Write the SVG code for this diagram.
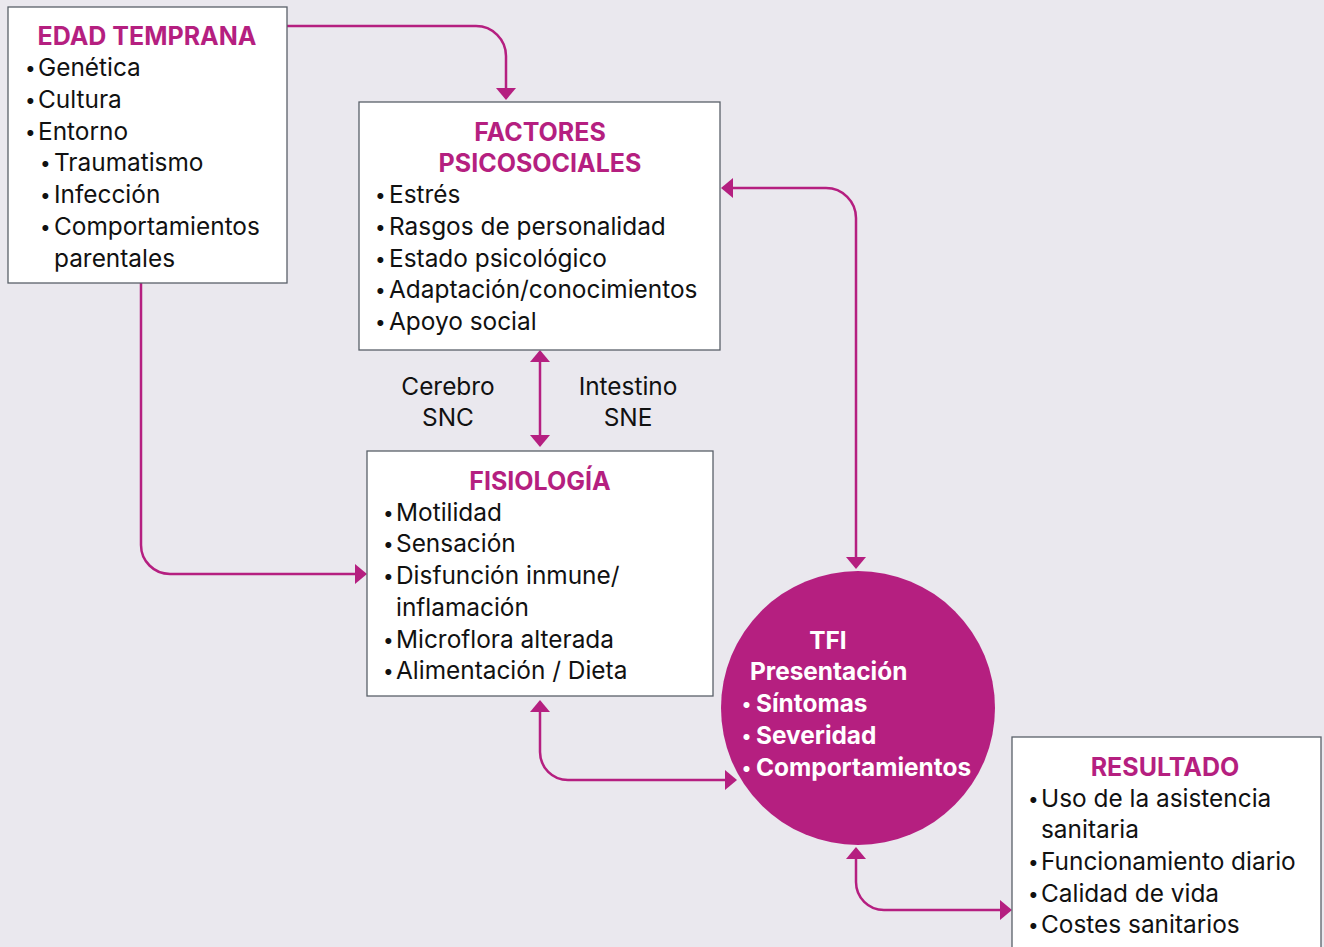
<svg xmlns="http://www.w3.org/2000/svg" width="1324" height="947" viewBox="0 0 1324 947">
<style>
.bg{fill:#EAE8EE}
.box{fill:#FFFFFF;stroke:#596069;stroke-width:1.3}
.t{font-family:Inter,"Open Sans","Liberation Sans",sans-serif;font-size:24.4px;fill:#111111}
.h{font-family:Inter,"Open Sans","Liberation Sans",sans-serif;font-size:25px;font-weight:700;fill:#B51F80;text-anchor:middle}
.w{font-family:Inter,"Open Sans","Liberation Sans",sans-serif;font-size:24.4px;font-weight:700;fill:#FFFFFF}
.b{font-size:19px}
.c{fill:none;stroke:#B51F80;stroke-width:2.5}
.m{text-anchor:middle}
</style>
<defs>
<marker id="ah" viewBox="0 0 12 20" refX="1" refY="10" markerWidth="12" markerHeight="20" markerUnits="userSpaceOnUse" orient="auto-start-reverse">
<path d="M0,0 L12,10 L0,20 Z" fill="#B51F80"/>
</marker>
</defs>
<rect class="bg" x="0" y="0" width="1324" height="947"/>

<g id="connectors">
<path class="c" d="M287,26 H476 A30,30 0 0 1 506,56 V89" marker-end="url(#ah)"/>
<path class="c" d="M732,188 H826 A30,30 0 0 1 856,218 V558" marker-start="url(#ah)" marker-end="url(#ah)"/>
<path class="c" d="M540,361 V436" marker-start="url(#ah)" marker-end="url(#ah)"/>
<path class="c" d="M141,283 V545 A29,29 0 0 0 170,574 H356" marker-end="url(#ah)"/>
<path class="c" d="M540,711 V752 A28,28 0 0 0 568,780 H726" marker-start="url(#ah)" marker-end="url(#ah)"/>
<path class="c" d="M856,858 V882 A28,28 0 0 0 884,910 H1001" marker-start="url(#ah)" marker-end="url(#ah)"/>
</g>

<g id="edad-temprana">
<rect class="box" x="8" y="7" width="279" height="276"/>
<text class="h" x="147" y="45">EDAD TEMPRANA</text>
<text class="t"><tspan class="b" x="25" y="75">•</tspan><tspan x="38" y="76">Genética</tspan></text>
<text class="t"><tspan class="b" x="25" y="107">•</tspan><tspan x="38" y="108">Cultura</tspan></text>
<text class="t"><tspan class="b" x="25" y="139">•</tspan><tspan x="38" y="140">Entorno</tspan></text>
<text class="t"><tspan class="b" x="40" y="170">•</tspan><tspan x="54" y="171">Traumatismo</tspan></text>
<text class="t"><tspan class="b" x="40" y="202">•</tspan><tspan x="54" y="203">Infección</tspan></text>
<text class="t"><tspan class="b" x="40" y="234">•</tspan><tspan x="54" y="235">Comportamientos</tspan></text>
<text class="t"><tspan x="54" y="267">parentales</tspan></text>
</g>

<g id="factores-psicosociales">
<rect class="box" x="359" y="102" width="361" height="248"/>
<text class="h" x="540" y="141">FACTORES</text>
<text class="h" x="540" y="172">PSICOSOCIALES</text>
<text class="t"><tspan class="b" x="375" y="202">•</tspan><tspan x="389" y="203">Estrés</tspan></text>
<text class="t"><tspan class="b" x="375" y="234">•</tspan><tspan x="389" y="235">Rasgos de personalidad</tspan></text>
<text class="t"><tspan class="b" x="375" y="266">•</tspan><tspan x="389" y="267">Estado psicológico</tspan></text>
<text class="t"><tspan class="b" x="375" y="297">•</tspan><tspan x="389" y="298">Adaptación/conocimientos</tspan></text>
<text class="t"><tspan class="b" x="375" y="329">•</tspan><tspan x="389" y="330">Apoyo social</tspan></text>
</g>

<g id="axis-labels">
<text class="t m" x="448" y="395">Cerebro</text>
<text class="t m" x="448" y="426">SNC</text>
<text class="t m" x="628" y="395">Intestino</text>
<text class="t m" x="628" y="426">SNE</text>
</g>

<g id="fisiologia">
<rect class="box" x="367" y="451" width="346" height="245"/>
<text class="h" x="540" y="490">FISIOLOGÍA</text>
<text class="t"><tspan class="b" x="383" y="520">•</tspan><tspan x="396" y="521">Motilidad</tspan></text>
<text class="t"><tspan class="b" x="383" y="551">•</tspan><tspan x="396" y="552">Sensación</tspan></text>
<text class="t"><tspan class="b" x="383" y="583">•</tspan><tspan x="396" y="584">Disfunción inmune/</tspan></text>
<text class="t"><tspan x="396" y="616">inflamación</tspan></text>
<text class="t"><tspan class="b" x="383" y="647">•</tspan><tspan x="396" y="648">Microflora alterada</tspan></text>
<text class="t"><tspan class="b" x="383" y="678">•</tspan><tspan x="396" y="679">Alimentación / Dieta</tspan></text>
</g>

<g id="tfi">
<circle cx="858" cy="708" r="137" fill="#B51F80"/>
<text class="w m" x="828" y="649">TFI</text>
<text class="w" x="750" y="680">Presentación</text>
<text class="w"><tspan class="b" x="742" y="711">•</tspan><tspan x="756" y="712">Síntomas</tspan></text>
<text class="w"><tspan class="b" x="742" y="743">•</tspan><tspan x="756" y="744">Severidad</tspan></text>
<text class="w"><tspan class="b" x="742" y="775">•</tspan><tspan x="756" y="776">Comportamientos</tspan></text>
</g>

<g id="resultado">
<rect class="box" x="1012" y="737" width="309" height="220"/>
<text class="h" x="1165" y="776">RESULTADO</text>
<text class="t"><tspan class="b" x="1028" y="806">•</tspan><tspan x="1041" y="807">Uso de la asistencia</tspan></text>
<text class="t"><tspan x="1041" y="838">sanitaria</tspan></text>
<text class="t"><tspan class="b" x="1028" y="869">•</tspan><tspan x="1041" y="870">Funcionamiento diario</tspan></text>
<text class="t"><tspan class="b" x="1028" y="901">•</tspan><tspan x="1041" y="902">Calidad de vida</tspan></text>
<text class="t"><tspan class="b" x="1028" y="932">•</tspan><tspan x="1041" y="933">Costes sanitarios</tspan></text>
</g>
</svg>
